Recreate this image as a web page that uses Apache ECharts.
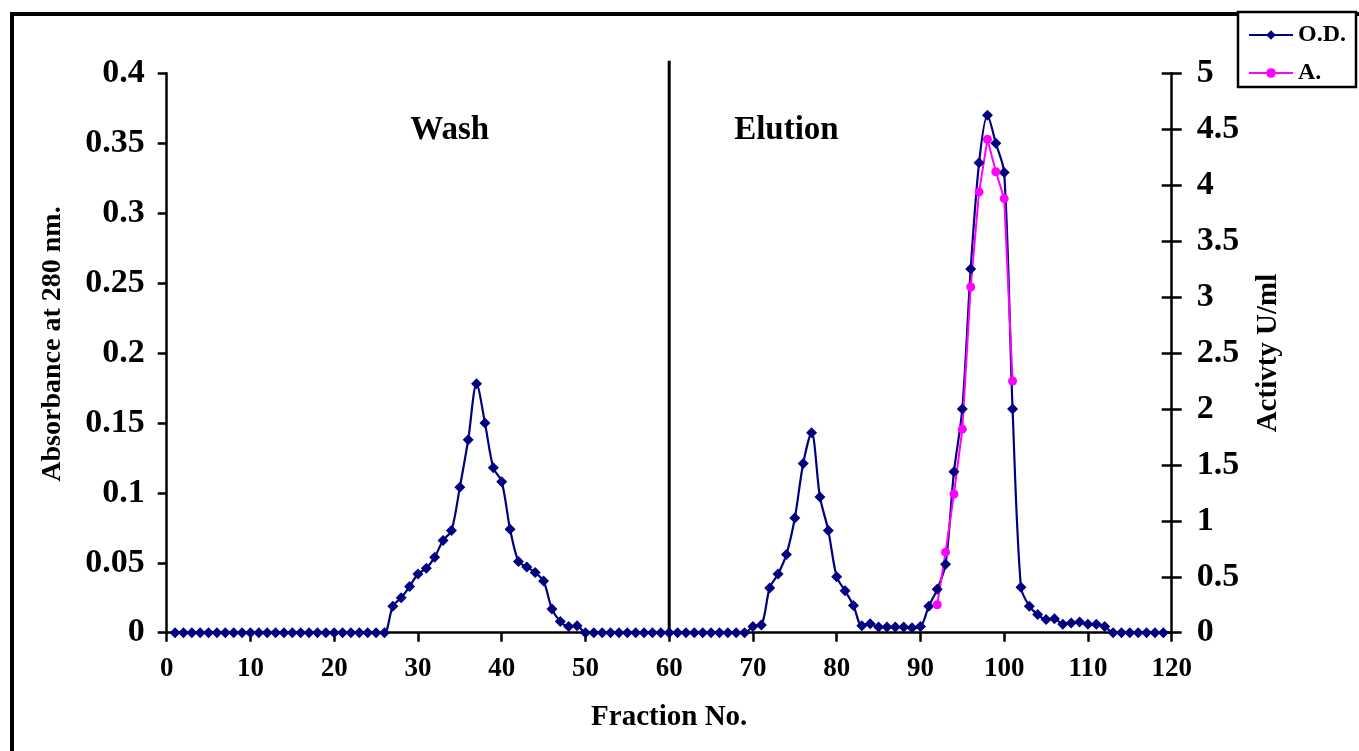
<!DOCTYPE html>
<html>
<head>
<meta charset="utf-8">
<script src="https://cdn.jsdelivr.net/npm/echarts@6/dist/echarts.min.js"></script>
<style>
html,body{margin:0;padding:0;background:#fff;}
#c{width:1359px;height:751px;}
</style>
</head>
<body>
<div id="c"></div>
<script>
// Fraction numbers
const fractions = [];
for (let i = 1; i <= 119; i++) fractions.push(i);

// O.D. at 280 nm (left axis), fractions 1..119
const odValues = [
  0,0,0,0,0,0,0,0,0,0,            // 1-10
  0,0,0,0,0,0,0,0,0,0,            // 11-20
  0,0,0,0,0,0,0.019,0.025,0.033,0.042,   // 21-30
  0.046,0.054,0.066,0.073,0.104,0.138,0.178,0.150,0.118,0.108, // 31-40
  0.074,0.051,0.047,0.043,0.037,0.017,0.008,0.0045,0.005,0,   // 41-50
  0,0,0,0,0,0,0,0,0,0,            // 51-60
  0,0,0,0,0,0,0,0,0,0.0045,       // 61-70
  0.0055,0.032,0.042,0.056,0.082,0.121,0.143,0.097,0.073,0.040, // 71-80
  0.030,0.0195,0.005,0.0064,0.004,0.004,0.004,0.004,0.0036,0.0044, // 81-90
  0.019,0.031,0.049,0.115,0.160,0.260,0.336,0.370,0.350,0.329, // 91-100
  0.160,0.0325,0.019,0.013,0.0094,0.010,0.006,0.007,0.0076,0.006, // 101-110
  0.006,0.0044,0,0,0,0,0,0,0      // 111-119
];

// Activity U/ml (right axis)
const actFractions = [92,93,94,95,96,97,98,99,100,101];
const actValues = [0.25,0.72,1.24,1.82,3.09,3.94,4.41,4.12,3.88,2.25];

const xTicks = {min:0, max:120, interval:10};
const yLeftTicks = {min:0, max:0.4, interval:0.05};
const yRightTicks = {min:0, max:5, interval:0.5};

const FONT = '"Liberation Serif","Times New Roman",serif';
const chart = echarts.init(document.getElementById('c'));

const odData = fractions.map((f,i)=>[f, odValues[i]]);
const actData = actFractions.map((f,i)=>[f, actValues[i]]);

const axisLineStyle = {color:'#000', width:2.5};

chart.setOption({
  backgroundColor:'#fff',
  animation:false,
  grid:{left:166.7, right:187.3, top:73.3, bottom:118.3, containLabel:false},
  legend:{
    orient:'vertical', left:1238, top:12,
    backgroundColor:'#fff', borderColor:'#000', borderWidth:2.5, borderRadius:0,
    padding:[11,10,2,10], itemGap:14, itemWidth:44, itemHeight:12, itemTextGap:6,
    textStyle:{fontFamily:FONT, fontWeight:'bold', fontSize:24, color:'#000'},
    data:['O.D.','A.']
  },
  xAxis:{
    type:'value', min:xTicks.min, max:xTicks.max, interval:xTicks.interval,
    name:'Fraction No.', nameLocation:'middle', nameGap:70,
    nameTextStyle:{fontFamily:FONT, fontWeight:'bold', fontSize:29, color:'#000'},
    axisLine:{show:true, onZero:false, lineStyle:axisLineStyle},
    axisTick:{show:true, length:9, lineStyle:{color:'#000', width:2.5}},
    axisLabel:{fontFamily:FONT, fontWeight:'bold', fontSize:27, color:'#000', margin:23},
    splitLine:{show:false}
  },
  yAxis:[{
    type:'value', position:'left', min:yLeftTicks.min, max:yLeftTicks.max, interval:yLeftTicks.interval,
    name:'Absorbance at 280 nm.', nameLocation:'middle', nameGap:100, nameRotate:90,
    nameTextStyle:{fontFamily:FONT, fontWeight:'bold', fontSize:28, color:'#000', padding:[0,0,0,18]},
    axisLine:{show:true, lineStyle:axisLineStyle},
    axisTick:{show:true, length:9, lineStyle:{color:'#000', width:2.5}},
    axisLabel:{fontFamily:FONT, fontWeight:'bold', fontSize:34, color:'#000', margin:22},
    splitLine:{show:false}
  },{
    type:'value', position:'right', min:yRightTicks.min, max:yRightTicks.max, interval:yRightTicks.interval,
    name:'Activty U/ml', nameLocation:'middle', nameGap:82, nameRotate:90,
    nameTextStyle:{fontFamily:FONT, fontWeight:'bold', fontSize:29, color:'#000'},
    axisLine:{show:true, lineStyle:axisLineStyle},
    axisTick:{show:true, length:10, lineStyle:{color:'#000', width:2.5}},
    axisLabel:{fontFamily:FONT, fontWeight:'bold', fontSize:34, color:'#000', margin:25},
    splitLine:{show:false}
  },{
    type:'value', position:'right', min:yRightTicks.min, max:yRightTicks.max, interval:yRightTicks.interval,
    axisLine:{show:false},
    axisTick:{show:true, inside:true, length:10, lineStyle:{color:'#000', width:2.5}},
    axisLabel:{show:false},
    splitLine:{show:false}
  }],
  series:[{
    name:'O.D.', type:'line', yAxisIndex:0, data:odData,
    smooth:0.3, symbol:'diamond', symbolSize:[11,11],
    lineStyle:{color:'#000080', width:2.2},
    itemStyle:{color:'#000080'}
  },{
    name:'A.', type:'line', yAxisIndex:1, data:actData,
    smooth:false, symbol:'circle', symbolSize:9,
    lineStyle:{color:'#FF00FF', width:2},
    itemStyle:{color:'#FF00FF'}
  }]
});

// Divider line and region labels placed through the chart's own scales
const pBottom = chart.convertToPixel({xAxisIndex:0, yAxisIndex:0}, [60, 0]);
const pTop = chart.convertToPixel({xAxisIndex:0, yAxisIndex:0}, [60, 0.409]);
const pWash = chart.convertToPixel({xAxisIndex:0, yAxisIndex:0}, [33.8, 0.359]);
const pElu = chart.convertToPixel({xAxisIndex:0, yAxisIndex:0}, [74.0, 0.359]);

chart.setOption({
  graphic:[
    {type:'rect', silent:true, z:-1, shape:{x:12, y:14, width:1400, height:800},
     style:{fill:null, stroke:'#000', lineWidth:4}},
    {type:'line', silent:true, shape:{x1:pBottom[0], y1:pBottom[1], x2:pTop[0], y2:pTop[1]},
     style:{stroke:'#000', lineWidth:3}},
    {type:'text', silent:true, x:pWash[0], y:pWash[1],
     style:{text:'Wash', font:'bold 33px '+FONT, fill:'#000', align:'center', verticalAlign:'middle'}},
    {type:'text', silent:true, x:pElu[0], y:pElu[1],
     style:{text:'Elution', font:'bold 33px '+FONT, fill:'#000', align:'center', verticalAlign:'middle'}}
  ]
});
</script>
</body>
</html>
